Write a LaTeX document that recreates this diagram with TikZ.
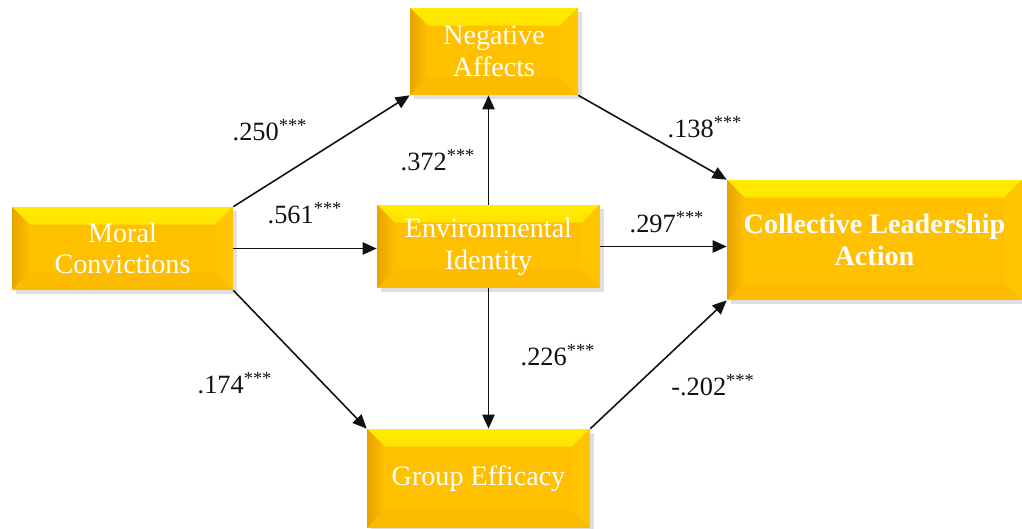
\documentclass[tikz,border=0pt]{standalone}
\usepackage{fontspec}
\setmainfont{Liberation Serif}
\usepackage{tikz}
\usetikzlibrary{
  arrows.meta,
  positioning,
  calc,
  shadows,
}
\definecolor{gold}{HTML}{FFC000}
\definecolor{goldtop}{HTML}{FFEC00}
\definecolor{goldleft}{HTML}{E6A300}
\definecolor{goldright}{HTML}{FFC500}
\definecolor{goldbottom}{HTML}{FCBB00}
\definecolor{ink}{HTML}{111111}
\tikzset{
  >={Triangle[length=8pt,width=7pt]},
  font=\fontsize{15}{18}\selectfont,
  coef/.style={font=\fontsize{15}{18}\selectfont, text=ink},
  path/.style={draw=ink, line width=0.9pt, ->},
  bevelbox/.style={
    fill=gold,
    text=white,
    align=center,
    inner sep=0pt,
    font=\fontsize{16}{18}\selectfont,
    drop shadow={opacity=0.25, shadow xshift=2.5pt, shadow yshift=-2.5pt},
    path picture={
      \def\bv{10pt}
      \shade[top color=goldtop, bottom color=gold]
        (path picture bounding box.north west) -- (path picture bounding box.north east)
        -- ([xshift=-\bv,yshift=-\bv]path picture bounding box.north east)
        -- ([xshift=\bv,yshift=-\bv]path picture bounding box.north west) -- cycle;
      \shade[left color=goldleft, right color=gold]
        (path picture bounding box.north west) -- ([xshift=\bv,yshift=-\bv]path picture bounding box.north west)
        -- ([xshift=\bv,yshift=\bv]path picture bounding box.south west)
        -- (path picture bounding box.south west) -- cycle;
      \fill[goldright]
        (path picture bounding box.north east) -- ([xshift=-\bv,yshift=-\bv]path picture bounding box.north east)
        -- ([xshift=-\bv,yshift=\bv]path picture bounding box.south east)
        -- (path picture bounding box.south east) -- cycle;
      \fill[goldbottom]
        (path picture bounding box.south west) -- ([xshift=\bv,yshift=\bv]path picture bounding box.south west)
        -- ([xshift=-\bv,yshift=\bv]path picture bounding box.south east)
        -- (path picture bounding box.south east) -- cycle;
    },
  },
}

\begin{document}
\begin{tikzpicture}[x=0.02cm,y=-0.02cm]
  \useasboundingbox (0,0) rectangle (1022,528);

  % boxes
  \node[bevelbox, minimum width=3.36cm, minimum height=1.74cm] (na) at (494,51.5) {Negative\\Affects};
  \node[bevelbox, minimum width=4.42cm, minimum height=1.66cm] (mc) at (122.5,248.5) {Moral\\Convictions};
  \node[bevelbox, minimum width=4.46cm, minimum height=1.66cm] (ei) at (488.5,246.5) {Environmental\\Identity};
  \node[bevelbox, minimum width=5.9cm, minimum height=2.4cm, font=\fontsize{16}{18}\selectfont\bfseries] (cla) at (874.5,240) {Collective Leadership\\Action};
  \node[bevelbox, minimum width=4.46cm, minimum height=1.98cm] (ge) at (478.5,478.5) {Group Efficacy};

  % paths
  \draw[path] (mc.north east) -- (na.south west);
  \draw[path] (mc.east) -- (mc.east -| ei.west);
  \draw[path] (mc.south east) -- (ge.north west);
  \draw[path] (ei.north) -- (ei.north |- na.south);
  \draw[path] (ei.south) -- (ei.south |- ge.north);
  \draw[path] (ei.east) -- (ei.east -| cla.west);
  \draw[path] (na.south east) -- (cla.north west);
  \draw[path] (ge.north east) -- (cla.south west);

  % coefficients
  \node[coef] (c1) at (270,130) {.250\textsuperscript{***}};
  \node[coef] (c2) at (305,213) {.561\textsuperscript{***}};
  \node[coef] (c3) at (235,383) {.174\textsuperscript{***}};
  \node[coef] (c4) at (438,160) {.372\textsuperscript{***}};
  \node[coef] (c5) at (558,355) {.226\textsuperscript{***}};
  \node[coef] (c6) at (705,127) {.138\textsuperscript{***}};
  \node[coef] (c7) at (667,222) {.297\textsuperscript{***}};
  \node[coef] (c8) at (713,385) {-.202\textsuperscript{***}};
\end{tikzpicture}
\end{document}
